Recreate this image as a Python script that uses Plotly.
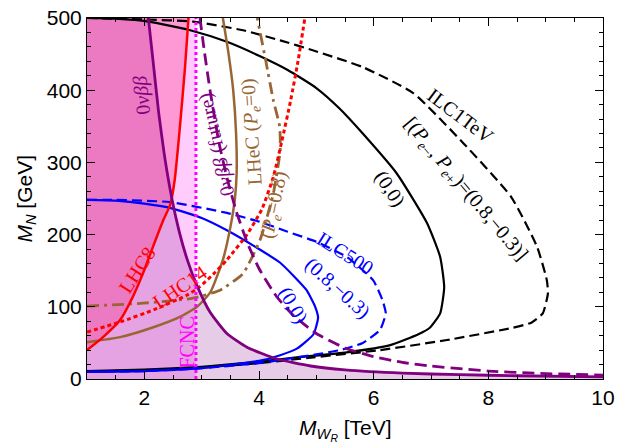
import plotly.graph_objects as go

# ---------------- data ----------------
X_RANGE = [1, 10]
Y_RANGE = [0, 500]
FCNC_X = 2.9

# 0vbb current (purple solid)
nu_x = [2.07, 2.15, 2.25, 2.35, 2.48, 2.6, 2.75, 2.92, 3.15, 3.44, 3.79, 4.3, 4.9, 5.5, 6.5, 7.5, 8.5, 10]
nu_y = [500, 442, 369, 310, 250, 207, 165, 129, 92, 63, 44, 28, 18, 12.5, 8, 6, 4.5, 3]

# 0vbb future (purple dashed)
nuf_x = [2.97, 3.05, 3.15, 3.3, 3.45, 3.6, 3.8, 4.0, 4.3, 4.6, 5.0, 5.5, 6.0, 6.5, 7.0, 8.0, 9.0, 10]
nuf_y = [500, 452, 398, 328, 276, 233, 188, 153, 115, 88, 63, 43, 31, 23, 18, 11, 7.5, 5.5]

# LHC8 (red solid)
lhc8_x = [1.0, 1.28, 1.58, 1.8, 1.98, 2.15, 2.33, 2.45, 2.53, 2.61, 2.71, 2.77]
lhc8_y = [40, 58, 82, 114, 147, 183, 220, 241, 276, 340, 432, 500]

# LHC14 (red dotted)
lhc14_x = [1.0, 1.58, 2.17, 2.74, 2.97, 3.2, 3.44, 3.79, 4.05, 4.25, 4.4, 4.55, 4.68, 4.8]
lhc14_y = [65, 79, 96, 116, 128, 145, 165, 200, 235, 280, 330, 385, 440, 500]

# LHeC Pe=0 (brown solid)
lhec0_x = [1.0, 1.58, 2.17, 2.62, 2.92, 3.15, 3.37, 3.5, 3.58, 3.61, 3.6, 3.55, 3.47, 3.37]
lhec0_y = [51, 58, 72, 86, 100, 120, 165, 210, 250, 285, 340, 400, 450, 500]

# LHeC Pe=0.8 (brown dot-dashed)
lhec8_x = [1.0, 1.98, 2.85, 3.32, 3.72, 4.02, 4.25, 4.37, 4.36, 4.25, 4.12, 3.97]
lhec8_y = [101, 105, 112, 123, 146, 193, 257, 317, 350, 386, 440, 500]

# ILC500 (0,0) (blue solid)
ilc500_x = [1.0, 1.5, 2.0, 2.45, 3.0, 3.44, 4.02, 4.37, 4.6, 4.83, 4.98, 5.03, 4.95, 4.66, 4.37, 4.0, 3.0, 2.0, 1.0]
ilc500_y = [248, 247, 243, 237, 223, 206, 179, 161, 143, 123, 100, 85, 62, 42, 33, 25, 15, 11, 10]

# ILC500 (0.8,-0.3) (blue dashed)
ilc500p_x = [1.0, 1.5, 2.45, 3.44, 4.0, 4.5, 5.0, 5.53, 5.99, 6.15, 6.21, 6.11, 5.81, 5.41, 5.0, 4.5, 4.0, 3.0, 2.0, 1.0]
ilc500p_y = [248, 248, 245, 230, 218, 204, 190, 169, 137, 110, 91, 68, 50, 40, 34, 28, 22, 15, 11, 10]

# ILC1TeV (0,0) (black solid)
ilc1_x = [1.0, 1.5, 2.07, 2.8, 3.44, 4.02, 4.5, 5.0, 5.4, 5.81, 6.4, 6.93, 7.16, 7.23, 7.16, 6.98, 6.78, 6.29, 5.53, 4.66, 4.0, 3.0, 2.0, 1.0]
ilc1_y = [500, 499, 495, 483, 467, 447, 428, 403, 375, 340, 285, 216, 169, 127, 91, 71, 62, 47, 37, 30, 24, 17, 13, 11]

# ILC1TeV (0.8,-0.3) (black dashed)
ilc1p_x = [1.0, 2.0, 2.85, 3.72, 4.37, 4.95, 5.81, 6.69, 7.56, 8.4, 8.85, 9.02, 9.04, 8.95, 8.75, 8.43, 7.28, 6.11, 4.95, 4.0, 3.0, 2.0, 1.0]
ilc1p_y = [500, 498, 495, 483, 469, 455, 432, 396, 327, 252, 183, 137, 119, 91, 78, 71, 54, 40, 30, 22, 16, 12, 10]

# text labels: (text, x, y, angle, color)
labels = [
    ("0<i>νββ</i>", 1.95, 393, -96, "#800080"),
    ("0<i>νββ</i> (future)", 3.25, 324, -103, "#800080"),
    ("LHeC (<i>P</i><sub><i>e</i></sub>=0)", 3.88, 342, -94, "#996633"),
    ("(<i>P</i><sub><i>e</i></sub>=0.8)", 4.26, 241, -78, "#996633"),
    ("LHC8", 1.87, 151, -57, "#FF0000"),
    ("LHC14", 2.62, 127, -34, "#FF0000"),
    ("FCNC", 2.75, 51, -90, "#FF00FF"),
    ("ILC500", 5.5, 174, 32, "#0000FF"),
    ("(0.8,−0.3)", 5.38, 126, 42, "#0000FF"),
    ("(0,0)", 4.6, 102, 60, "#0000FF"),
    ("(0,0)", 6.28, 264, 57, "#000000"),
    ("ILC1TeV", 7.52, 364, 37, "#000000"),
    ("[(<i>P</i><sub><i>e</i>−</sub>, <i>P</i><sub><i>e</i>+</sub>)=(0.8,−0.3)]", 7.6, 262, 50, "#000000"),
]

X_TITLE = "<i>M</i><sub><i>W</i><sub><i>R</i></sub></sub> [TeV]"
Y_TITLE = "<i>M</i><sub><i>N</i></sub> [GeV]"

# ---------------- figure ----------------
fig = go.Figure()

def fill(xs, ys, color):
    fig.add_trace(go.Scatter(x=xs, y=ys, mode="lines", fill="toself", fillcolor=color,
                             line=dict(width=0), hoverinfo="skip", showlegend=False))

# FCNC excluded region (x < FCNC_X)
fill([X_RANGE[0], FCNC_X, FCNC_X, X_RANGE[0]], [Y_RANGE[0], Y_RANGE[0], Y_RANGE[1], Y_RANGE[1]],
     "rgba(255,0,240,0.2)")
# 0vbb excluded region (below purple solid)
fill(nu_x + [X_RANGE[1], X_RANGE[0], X_RANGE[0]], nu_y + [Y_RANGE[0], Y_RANGE[0], Y_RANGE[1]],
     "rgba(128,0,128,0.2)")
# LHC8 excluded region (left of red)
fill(lhc8_x + [X_RANGE[0]], lhc8_y + [Y_RANGE[1]], "rgba(255,0,100,0.25)")

def line(xs, ys, color, dash="solid", width=2.5):
    fig.add_trace(go.Scatter(x=xs, y=ys, mode="lines",
                             line=dict(color=color, width=width, dash=dash, shape="spline", smoothing=0.5),
                             hoverinfo="skip", showlegend=False))

line(ilc1p_x, ilc1p_y, "black", "10px,5px", 2.2)
line(ilc1_x, ilc1_y, "black", "solid", 2.2)
line(ilc500p_x, ilc500p_y, "#0000FF", "10px,5px", 2.2)
line(ilc500_x, ilc500_y, "#0000FF", "solid", 2.2)
line(lhec8_x, lhec8_y, "#996633", "12px,5px,3px,5px", 2.8)
line(lhec0_x, lhec0_y, "#996633", "solid", 2.5)
line(lhc14_x, lhc14_y, "#FF0000", "4px,3px", 3)
line(lhc8_x, lhc8_y, "#FF0000", "solid", 2.5)
line(nuf_x, nuf_y, "#800080", "12px,6px", 2.8)
line(nu_x, nu_y, "#800080", "solid", 2.8)
fig.add_trace(go.Scatter(x=[FCNC_X, FCNC_X], y=Y_RANGE, mode="lines",
                         line=dict(color="#FF00FF", width=3, dash="3px,3px"),
                         hoverinfo="skip", showlegend=False))

for text, x, y, ang, col in labels:
    fig.add_annotation(x=x, y=y, text=text, textangle=ang, showarrow=False,
                       font=dict(family="Liberation Serif", size=20, color=col),
                       xanchor="center", yanchor="middle")

# axis titles
title_font = dict(family="Liberation Sans", size=21, color="black")
fig.add_annotation(xref="paper", yref="paper", x=0.5, y=-0.14, text=X_TITLE, showarrow=False,
                   font=title_font, xanchor="center", yanchor="middle")
fig.add_annotation(xref="paper", yref="paper", x=-0.12, y=0.5, text=Y_TITLE, showarrow=False,
                   font=title_font, textangle=-90, xanchor="center", yanchor="middle")

axis_common = dict(showgrid=False, zeroline=False, showline=True, linecolor="black", linewidth=1,
                   mirror="ticks", ticks="inside", ticklen=8, tickwidth=1, tickcolor="black",
                   automargin=False,
                   tickfont=dict(family="Liberation Sans", size=21, color="black"))

fig.update_xaxes(range=X_RANGE, tickvals=[2, 4, 6, 8, 10], **axis_common,
                 minor=dict(ticks="inside", ticklen=4, dtick=0.5, tick0=1, tickcolor="black"))
fig.update_yaxes(range=Y_RANGE, tickvals=[0, 100, 200, 300, 400, 500], **axis_common,
                 minor=dict(ticks="inside", ticklen=4, dtick=20, tick0=0, tickcolor="black"))

fig.update_layout(width=626, height=443, margin=dict(l=87, r=23, t=18, b=64, autoexpand=False),
                  plot_bgcolor="white", paper_bgcolor="white", showlegend=False)

fig.write_html("out.html", config={"displayModeBar": False},
               post_script="document.body.style.margin='0';document.body.style.padding='0';")
